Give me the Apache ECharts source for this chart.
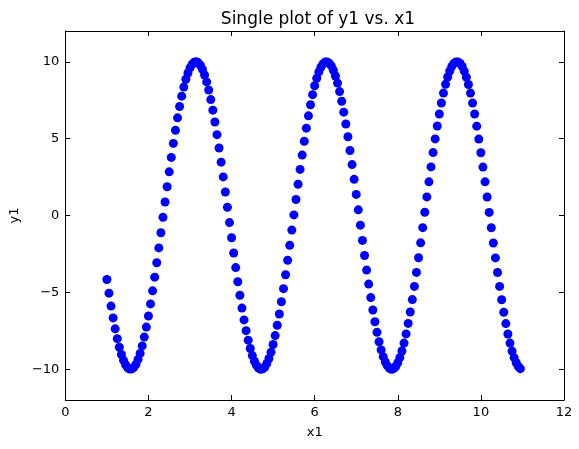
<!DOCTYPE html>
<html>
<head>
<meta charset="utf-8">
<script src="https://cdn.jsdelivr.net/npm/echarts@6/dist/echarts.min.js"></script>
<style>
  html, body { margin: 0; padding: 0; background: #fff; }
  #chart { width: 579px; height: 449px; }
</style>
</head>
<body>
<div id="chart"></div>
<script>
// x1 values (step 0.05)
var x1 = [
  1.00, 1.05, 1.10, 1.15, 1.20, 1.25, 1.30, 1.35, 1.40, 1.45, 1.50, 1.55,
  1.60, 1.65, 1.70, 1.75, 1.80, 1.85, 1.90, 1.95, 2.00, 2.05, 2.10, 2.15, 2.20, 2.25, 2.30, 2.35, 2.40, 2.45, 2.50, 2.55, 2.60, 2.65, 2.70, 2.75, 2.80, 2.85, 2.90, 2.95, 3.00, 3.05, 3.10,
  3.15, 3.20, 3.25, 3.30, 3.35, 3.40, 3.45, 3.50, 3.55, 3.60, 3.65, 3.70, 3.75, 3.80, 3.85, 3.90, 3.95, 4.00, 4.05, 4.10, 4.15, 4.20, 4.25, 4.30, 4.35, 4.40, 4.45, 4.50, 4.55, 4.60, 4.65, 4.70,
  4.75, 4.80, 4.85, 4.90, 4.95, 5.00, 5.05, 5.10, 5.15, 5.20, 5.25, 5.30, 5.35, 5.40, 5.45, 5.50, 5.55, 5.60, 5.65, 5.70, 5.75, 5.80, 5.85, 5.90, 5.95, 6.00, 6.05, 6.10, 6.15, 6.20, 6.25,
  6.30, 6.35, 6.40, 6.45, 6.50, 6.55, 6.60, 6.65, 6.70, 6.75, 6.80, 6.85, 6.90, 6.95, 7.00, 7.05, 7.10, 7.15, 7.20, 7.25, 7.30, 7.35, 7.40, 7.45, 7.50, 7.55, 7.60, 7.65, 7.70, 7.75, 7.80, 7.85,
  7.90, 7.95, 8.00, 8.05, 8.10, 8.15, 8.20, 8.25, 8.30, 8.35, 8.40, 8.45, 8.50, 8.55, 8.60, 8.65, 8.70, 8.75, 8.80, 8.85, 8.90, 8.95, 9.00, 9.05, 9.10, 9.15, 9.20, 9.25, 9.30, 9.35, 9.40,
  9.45, 9.50, 9.55, 9.60, 9.65, 9.70, 9.75, 9.80, 9.85, 9.90, 9.95, 10.00, 10.05, 10.10, 10.15, 10.20, 10.25, 10.30, 10.35, 10.40, 10.45, 10.50, 10.55, 10.60, 10.65, 10.70, 10.75, 10.80, 10.85, 10.90, 10.95
];

// y1 values
var y1 = [
  -4.16, -5.05, -5.89, -6.66, -7.37, -8.01, -8.57, -9.04, -9.42, -9.71, -9.90, -9.99,
  -9.98, -9.87, -9.67, -9.36, -8.97, -8.48, -7.91, -7.26, -6.54, -5.75, -4.90, -4.01, -3.07, -2.11, -1.12, -0.12, 0.88, 1.87, 2.84, 3.78, 4.69, 5.54, 6.35, 7.09, 7.76, 8.35, 8.86, 9.27, 9.60, 9.83, 9.97,
  10.00, 9.93, 9.77, 9.50, 9.14, 8.69, 8.16, 7.54, 6.85, 6.08, 5.26, 4.39, 3.47, 2.51, 1.53, 0.54, -0.46, -1.45, -2.44, -3.39, -4.31, -5.19, -6.02, -6.79, -7.49, -8.11, -8.65, -9.11, -9.48, -9.75, -9.92, -10.00,
  -9.97, -9.85, -9.62, -9.30, -8.89, -8.39, -7.81, -7.14, -6.41, -5.61, -4.76, -3.85, -2.91, -1.94, -0.95, 0.04, 1.04, 2.03, 3.00, 3.93, 4.83, 5.68, 6.48, 7.20, 7.86, 8.44, 8.93, 9.34, 9.65, 9.86, 9.98,
  9.99, 9.91, 9.73, 9.45, 9.07, 8.61, 8.06, 7.43, 6.72, 5.95, 5.12, 4.23, 3.31, 2.35, 1.37, 0.37, -0.63, -1.62, -2.60, -3.55, -4.46, -5.34, -6.15, -6.91, -7.60, -8.21, -8.74, -9.18, -9.53, -9.78, -9.94, -10.00,
  -9.96, -9.82, -9.58, -9.24, -8.81, -8.30, -7.70, -7.02, -6.28, -5.47, -4.61, -3.70, -2.75, -1.78, -0.79, 0.21, 1.21, 2.19, 3.16, 4.09, 4.98, 5.82, 6.60, 7.32, 7.96, 8.53, 9.01, 9.40, 9.69, 9.89, 9.99,
  9.99, 9.89, 9.69, 9.39, 9.00, 8.52, 7.96, 7.31, 6.60, 5.81, 4.97, 4.08, 3.15, 2.19, 1.20, 0.20, -0.80, -1.79, -2.76, -3.71, -4.61, -5.48, -6.29, -7.03, -7.71, -8.30, -8.82, -9.24, -9.58, -9.82, -9.96
];

var yTicks = [-10, -5, 0, 5, 10];

var points = x1.map(function (x, i) { return [x, y1[i]]; });

var font = 'DejaVu Sans';
var minus = function (v) { return String(v).replace('-', '\u2212'); };

var chart = echarts.init(document.getElementById('chart'));

var axisLine = { show: true, onZero: false, lineStyle: { color: '#000', width: 1 } };
var tick = { show: true, inside: true, length: 5, lineStyle: { color: '#000', width: 1 } };

chart.setOption({
  animation: false,
  backgroundColor: '#fff',
  title: {
    text: 'Single plot of y1 vs. x1',
    left: 313,
    textAlign: 'center',
    top: 6,
    textStyle: { fontFamily: font, fontSize: 17, fontWeight: 'normal', color: '#000' }
  },
  grid: { left: 64, right: 15, top: 31, bottom: 49 },
  xAxis: [
    {
      type: 'value', min: 0, max: 12, interval: 2,
      name: 'x1', nameLocation: 'middle', nameGap: 26,
      nameTextStyle: { fontFamily: font, fontSize: 13, color: '#000' },
      axisLine: axisLine, axisTick: tick, splitLine: { show: false },
      axisLabel: { fontFamily: font, fontSize: 13, color: '#000', margin: 6 }
    },
    {
      type: 'value', position: 'top', min: 0, max: 12, interval: 2,
      axisLine: axisLine, axisTick: tick, splitLine: { show: false },
      axisLabel: { show: false }
    }
  ],
  yAxis: [
    {
      type: 'value', min: -12, max: 12,
      name: 'y1', nameLocation: 'middle', nameGap: 41, nameRotate: 90,
      nameTextStyle: { fontFamily: font, fontSize: 13, color: '#000' },
      axisLine: axisLine, splitLine: { show: false },
      axisTick: Object.assign({}, tick, { customValues: yTicks }),
      axisLabel: { fontFamily: font, fontSize: 13, color: '#000', margin: 6,
        customValues: yTicks, formatter: minus }
    },
    {
      type: 'value', position: 'right', min: -12, max: 12,
      axisLine: axisLine, splitLine: { show: false },
      axisTick: Object.assign({}, tick, { customValues: yTicks }),
      axisLabel: { show: false, customValues: yTicks }
    }
  ],
  series: [
    {
      type: 'scatter',
      data: points,
      symbol: 'circle',
      symbolSize: 9,
      itemStyle: { color: '#0000ff', opacity: 1 }
    }
  ]
});
</script>
</body>
</html>
